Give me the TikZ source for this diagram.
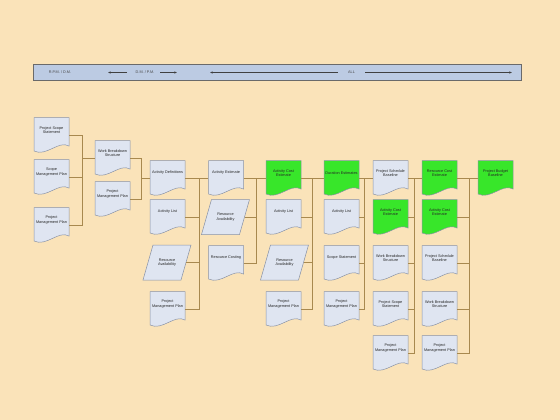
\documentclass[tikz,border=0pt]{standalone}
\usepackage{fontspec}
\setmainfont{Liberation Sans}
\usetikzlibrary{arrows.meta}
\definecolor{bgcol}{HTML}{FAE3B9}
\definecolor{barfill}{HTML}{BCCBE3}
\definecolor{barline}{HTML}{6A6A6A}
\definecolor{bartxt}{HTML}{4A4A4A}
\definecolor{docfill}{HTML}{DFE5F1}
\definecolor{docline}{HTML}{8A93A6}
\definecolor{greenfill}{HTML}{38E62A}
\definecolor{conncol}{HTML}{A8894F}
\definecolor{txtcol}{HTML}{262626}
\tikzset{
  docshape/.style={draw=docline, line width=0.5pt},
  doctext/.style={font=\fontsize{3.8pt}{4.5pt}\selectfont, text=txtcol, align=center, minimum width=35pt, inner xsep=0pt, inner ysep=0.5pt},
  conn/.style={draw=conncol, line width=0.6pt},
  bartext/.style={font=\fontsize{3.8pt}{4.4pt}\selectfont, text=bartxt, inner sep=0.5pt},
  barrow/.style={draw=black!75, line width=0.35pt, -{Latex[length=2.6pt,width=2.2pt]}}
}
% \docbox{fill}{name}{cx}{port y}{text}
\newcommand{\docbox}[5]{%
  \path[docshape, fill=#1] ({#3-17.5},{#4-17.5}) -- ({#3+17.5},{#4-17.5}) -- ({#3+17.5},{#4+11})
    .. controls ({#3+7},{#4+5}) and ({#3-5},{#4+22}) .. ({#3-17.5},{#4+16}) -- cycle;
  \node[doctext] (#2) at (#3,{#4-5}) {#5};
  \coordinate (#2-e) at ([yshift=-5pt]#2.east);
  \coordinate (#2-w) at ([yshift=-5pt]#2.west);
}
% \parabox{name}{cx}{cy}{text}
\newcommand{\parabox}[4]{%
  \path[docshape, fill=docfill] ({#2-14},{#3-17.5}) -- ({#2+24},{#3-17.5}) -- ({#2+14},{#3+17.5}) -- ({#2-24},{#3+17.5}) -- cycle;
  \node[doctext] (#1) at (#2,#3) {#4};
  \coordinate (#1-e) at ([xshift=1.5pt]#1.east);
}
\begin{document}
\begin{tikzpicture}[x=1pt, y=-1pt]
\useasboundingbox (0,0) rectangle (560,420);
\fill[bgcol] (0,0) rectangle (560,420);

% top bar
\path[fill=barfill, draw=barline, line width=0.8pt] (33,64.5) rectangle (521.5,80.5);
\node[bartext] (bt1) at (60,72.5) {R.P.M. / D.M.};
\node[bartext] (bt2) at (145,72.5) {D.M. / P.M.};
\node[bartext] (bt3) at (351.5,72.5) {ALL};
\coordinate (a1s) at (127,72.5); \coordinate (a1e) at (108,72.5);
\coordinate (a2s) at (160,72.5); \coordinate (a2e) at (177,72.5);
\coordinate (a3s) at (338,72.5); \coordinate (a3e) at (210,72.5);
\coordinate (a4s) at (365,72.5); \coordinate (a4e) at (512,72.5);
\draw[barrow] (a1s) -- (a1e);
\draw[barrow] (a2s) -- (a2e);
\draw[barrow] (a3s) -- (a3e);
\draw[barrow] (a4s) -- (a4e);

% column 1
\docbox{docfill}{pssA}{51.5}{135}{Project Scope\\Statement}
\docbox{docfill}{smp}{51.5}{177}{Scope\\Management Plan}
\docbox{docfill}{pmpA}{51.5}{225}{Project\\Management Plan}
% column 2
\docbox{docfill}{wbsA}{112.5}{158}{Work Breakdown\\Structure}
\docbox{docfill}{pmpB}{112.5}{199}{Project\\Management Plan}
% column 3
\docbox{docfill}{ad}{167.5}{178}{Activity Definitions}
\docbox{docfill}{alA}{167.5}{217}{Activity List}
\parabox{raA}{167}{262.5}{Resource\\Availability}
\docbox{docfill}{pmpC}{167.5}{309}{Project\\Management Plan}
% column 4
\docbox{docfill}{ae}{226}{178}{Activity Estimate}
\parabox{raB}{225.5}{217}{Resource\\Availability}
\docbox{docfill}{rc}{226}{263}{Resource Costing}
% column 5
\docbox{greenfill}{aceA}{283.5}{178}{Activity Cost\\Estimate}
\docbox{docfill}{alB}{283.5}{217}{Activity List}
\parabox{raC}{284.5}{262.5}{Resource\\Availability}
\docbox{docfill}{pmpD}{283.5}{309}{Project\\Management Plan}
% column 6
\docbox{greenfill}{de}{341.5}{178}{Duration Estimates}
\docbox{docfill}{alC}{341.5}{217}{Activity List}
\docbox{docfill}{ss}{341.5}{263}{Scope Statement}
\docbox{docfill}{pmpE}{341.5}{309}{Project\\Management Plan}
% column 7
\docbox{docfill}{psbA}{390.5}{178}{Project Schedule\\Baseline}
\docbox{greenfill}{aceB}{390.5}{217}{Activity Cost\\Estimate}
\docbox{docfill}{wbsB}{390.5}{263}{Work Breakdown\\Structure}
\docbox{docfill}{pssB}{390.5}{309}{Project Scope\\Statement}
\docbox{docfill}{pmpF}{390.5}{353}{Project\\Management Plan}
% column 8
\docbox{greenfill}{rce}{439.5}{178}{Resource Cost\\Estimate}
\docbox{greenfill}{aceC}{439.5}{217}{Activity Cost\\Estimate}
\docbox{docfill}{psbB}{439.5}{263}{Project Schedule\\Baseline}
\docbox{docfill}{wbsC}{439.5}{309}{Work Breakdown\\Structure}
\docbox{docfill}{pmpG}{439.5}{353}{Project\\Management Plan}
% column 9
\docbox{greenfill}{pbb}{495.5}{178}{Project Budget\\Baseline}

% bus junctions
\coordinate (k1) at (82,158);
\coordinate (k2) at (141,178);
\coordinate (j3) at (199,178);
\coordinate (j4) at (256,178);
\coordinate (j5) at (312,178);
\coordinate (j6) at (364,178);
\coordinate (j7) at (414,178);
\coordinate (j8) at (469,178);

% connectors
\draw[conn] (pssA-e) -| (k1);
\draw[conn] (smp-e) -| (k1);
\draw[conn] (pmpA-e) -| (k1);
\draw[conn] (k1) -- (wbsA-w);

\draw[conn] (wbsA-e) -| (k2);
\draw[conn] (pmpB-e) -| (k2);
\draw[conn] (k2) -- (ad-w);

\draw[conn] (ad-e) -- (ae-w);
\draw[conn] (alA-e) -| (j3);
\draw[conn] (raA-e) -| (j3);
\draw[conn] (pmpC-e) -| (j3);

\draw[conn] (ae-e) -- (aceA-w);
\draw[conn] (raB-e) -| (j4);
\draw[conn] (rc-e) -| (j4);

\draw[conn] (aceA-e) -- (de-w);
\draw[conn] (alB-e) -| (j5);
\draw[conn] (raC-e) -| (j5);
\draw[conn] (pmpD-e) -| (j5);

\draw[conn] (de-e) -- (psbA-w);
\draw[conn] (alC-e) -| (j6);
\draw[conn] (ss-e) -| (j6);
\draw[conn] (pmpE-e) -| (j6);

\draw[conn] (psbA-e) -- (rce-w);
\draw[conn] (aceB-e) -| (j7);
\draw[conn] (wbsB-e) -| (j7);
\draw[conn] (pssB-e) -| (j7);
\draw[conn] (pmpF-e) -| (j7);

\draw[conn] (rce-e) -- (pbb-w);
\draw[conn] (aceC-e) -| (j8);
\draw[conn] (psbB-e) -| (j8);
\draw[conn] (wbsC-e) -| (j8);
\draw[conn] (pmpG-e) -| (j8);
\end{tikzpicture}
\end{document}
